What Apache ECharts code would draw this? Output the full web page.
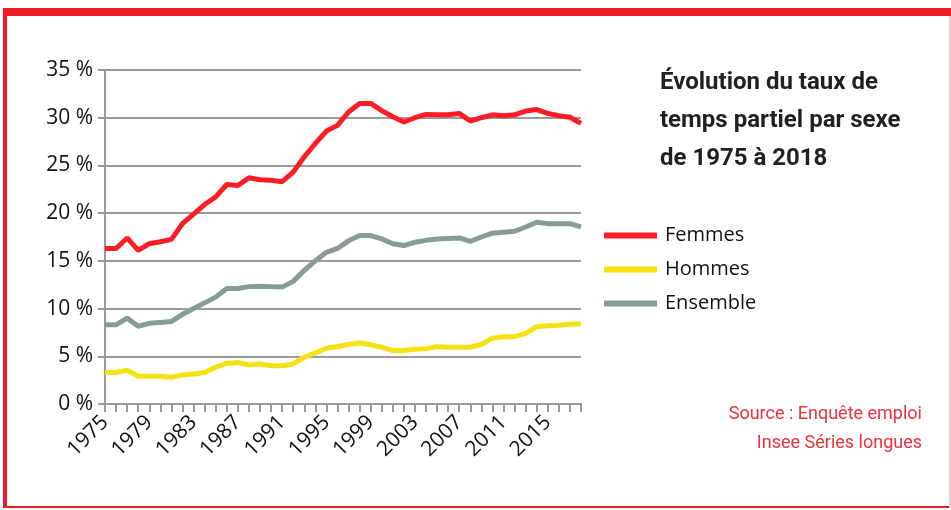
<!DOCTYPE html>
<html>
<head>
<meta charset="utf-8">
<script src="https://cdn.jsdelivr.net/npm/echarts@6/dist/echarts.min.js"></script>
<style>
  html, body { margin: 0; padding: 0; background: #fff; }
  #chart { width: 951px; height: 510px; }
</style>
</head>
<body>
<div id="chart"></div>
<script>
// années 1975 -> 2018
const years = []
for (let y = 1975; y <= 2018; y++) years.push(String(y))

// taux de temps partiel (%)
const femmes = [16.3, 16.3, 17.4, 16.1, 16.8, 17.0, 17.25, 18.9, 19.9, 20.9,
  21.7, 23.0, 22.9, 23.7, 23.5, 23.45, 23.3, 24.3, 25.9, 27.3,
  28.6, 29.2, 30.6, 31.5, 31.5, 30.75, 30.1, 29.55, 30.0, 30.35,
  30.3, 30.3, 30.45, 29.65, 30.0, 30.3, 30.2, 30.3, 30.7, 30.85,
  30.45, 30.2, 30.05, 29.4]
const hommes = [3.3, 3.3, 3.55, 2.9, 2.9, 2.9, 2.8, 3.05, 3.15, 3.3,
  3.85, 4.25, 4.35, 4.1, 4.2, 4.0, 4.0, 4.2, 4.9, 5.35,
  5.85, 6.0, 6.25, 6.4, 6.2, 5.95, 5.6, 5.6, 5.75, 5.8,
  6.0, 5.95, 5.95, 5.95, 6.25, 6.9, 7.05, 7.05, 7.4, 8.1,
  8.2, 8.25, 8.35, 8.4]
const ensemble = [8.3, 8.3, 9.0, 8.15, 8.45, 8.55, 8.65, 9.4, 10.0, 10.6,
  11.2, 12.1, 12.1, 12.3, 12.35, 12.3, 12.25, 12.85, 14.0, 15.0,
  15.9, 16.3, 17.1, 17.65, 17.65, 17.3, 16.8, 16.6, 16.95, 17.15,
  17.3, 17.35, 17.4, 17.05, 17.5, 17.9, 18.0, 18.1, 18.55, 19.05,
  18.9, 18.9, 18.9, 18.55]

const red = '#ff1d25'
const yellow = '#f6e214'
const grey = '#879c99'
const axisGrey = '#9a9a9a'

const chart = echarts.init(document.getElementById('chart'))

const lineSerie = (name, data, color) => ({
  name: name,
  type: 'line',
  data: data,
  symbol: 'none',
  lineStyle: { color: color, width: 5 },
  itemStyle: { color: color },
  z: 3
})

chart.setOption({
  animation: false,
  backgroundColor: '#fff',
  textStyle: { fontFamily: '"Open Sans", Lato, sans-serif' },
  title: {
    text: 'Évolution du taux de\ntemps partiel par sexe\nde 1975 à 2018',
    left: 655,
    top: 59,
    textStyle: {
      fontFamily: 'Roboto, sans-serif',
      fontSize: 24,
      fontWeight: 'bold',
      color: '#231f20',
      lineHeight: 38
    }
  },
  legend: {
    orient: 'vertical',
    left: 599,
    top: 220,
    itemWidth: 53,
    itemHeight: 6,
    itemGap: 13,
    icon: 'rect',
    data: ['Femmes', 'Hommes', 'Ensemble'],
    textStyle: { fontSize: 20, color: '#111', lineHeight: 21, padding: [0, 0, 0, 3] }
  },
  grid: { left: 105, right: 370, top: 70, bottom: 106 },
  xAxis: {
    type: 'category',
    data: years,
    boundaryGap: false,
    axisLine: { lineStyle: { color: axisGrey, width: 2 } },
    axisTick: { show: true, interval: 0, length: 8, lineStyle: { color: axisGrey, width: 2 } },
    axisLabel: { interval: 3, rotate: 45, fontSize: 21, color: '#111', margin: 15 }
  },
  yAxis: {
    type: 'value',
    min: 0,
    max: 35,
    interval: 5,
    axisLine: { show: true, lineStyle: { color: axisGrey, width: 2 } },
    axisTick: { show: true, length: 7, lineStyle: { color: axisGrey, width: 2 } },
    splitLine: { lineStyle: { color: axisGrey, width: 2 } },
    axisLabel: { formatter: '{value} %', fontSize: 21, color: '#111', margin: 12 }
  },
  series: [
    lineSerie('Femmes', femmes, red),
    lineSerie('Hommes', hommes, yellow),
    lineSerie('Ensemble', ensemble, grey)
  ],
  graphic: [
    { type: 'rect', shape: { x: 3, y: 8, width: 948, height: 8 }, style: { fill: '#ee1c25' } },
    { type: 'rect', shape: { x: 3, y: 8, width: 4, height: 500 }, style: { fill: '#ee1c25' } },
    { type: 'rect', shape: { x: 3, y: 506, width: 948, height: 2 }, style: { fill: '#ee1c25' } },
    { type: 'rect', shape: { x: 949, y: 16, width: 2, height: 492 }, style: { fill: '#f8c8ca' } },
    {
      type: 'text', x: 922, y: 400,
      style: {
        text: 'Source : Enquête emploi\nInsee Séries longues',
        fill: '#e8323c', font: '18px Roboto, sans-serif',
        textAlign: 'right', lineHeight: 29
      }
    }
  ]
})
</script>
</body>
</html>
